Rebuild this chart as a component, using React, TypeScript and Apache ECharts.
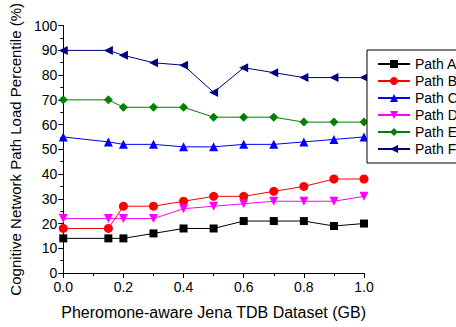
import React, { useEffect, useRef } from "react";
import * as echarts from "echarts";

const xValues = [0, 0.15, 0.2, 0.3, 0.4, 0.5, 0.6, 0.7, 0.8, 0.9, 1.0];
const seriesNames = ["Path A", "Path B", "Path C", "Path D", "Path E", "Path F"];
const pathA = [14, 14, 14, 16, 18, 18, 21, 21, 21, 19, 20];
const pathB = [18, 18, 27, 27, 29, 31, 31, 33, 35, 38, 38];
const pathC = [55, 53, 52, 52, 51, 51, 52, 52, 53, 54, 55];
const pathD = [22, 22, 22, 22, 26, 27, 28, 29, 29, 29, 31];
const pathE = [70, 70, 67, 67, 67, 63, 63, 63, 61, 61, 61];
const pathF = [90, 90, 88, 85, 84, 73, 83, 81, 79, 79, 79];
const allValues = [pathA, pathB, pathC, pathD, pathE, pathF];
const colors = ["#000000", "#ff0000", "#0000ff", "#ff00ff", "#008000", "#000080"];
const symbols = ["rect", "circle", "triangle", "triangle", "diamond", "triangle"];
const symbolRotates = [0, 0, 0, 180, 0, 90];
const symbolSizes = [8, 9, 9, 9, 9, 9];

const FONT = "Liberation Sans, Arial, sans-serif";

export default function App() {
  const ref = useRef<HTMLDivElement>(null);
  useEffect(() => {
    if (!ref.current) return;
    const chart = echarts.init(ref.current, null, { renderer: "svg" });
    const series = seriesNames.map((name, i) => ({
      name,
      type: "line",
      data: xValues.map((x, j) => [x, allValues[i][j]]),
      symbol: symbols[i],
      symbolSize: symbolSizes[i],
      symbolRotate: symbolRotates[i],
      clip: false,
      lineStyle: { color: colors[i], width: 1 },
      itemStyle: { color: colors[i] },
    }));
    chart.setOption({
      animation: false,
      backgroundColor: "#ffffff",
      textStyle: { fontFamily: FONT, color: "#000" },
      grid: { left: 56, right: 92, top: 25, bottom: 54, containLabel: false },
      legend: {
        orient: "vertical",
        left: 367,
        top: 50,
        padding: [7, 10, 7, 10],
        itemWidth: 32,
        itemHeight: 10,
        itemGap: 3,
        borderColor: "#000",
        borderWidth: 1,
        backgroundColor: "#fff",
        textStyle: { fontFamily: FONT, fontSize: 14, lineHeight: 14, color: "#000" },
        data: seriesNames,
      },
      xAxis: {
        type: "value",
        min: 0,
        max: 1,
        interval: 0.2,
        name: "Pheromone-aware Jena TDB Dataset (GB)",
        nameLocation: "middle",
        nameGap: 31,
        nameTextStyle: { fontFamily: FONT, fontSize: 16, color: "#000" },
        axisLine: { show: true, lineStyle: { color: "#000", width: 1 } },
        axisTick: { show: true, inside: false, length: 5, lineStyle: { color: "#000" } },
        minorTick: { show: true, splitNumber: 2, length: 3, lineStyle: { color: "#000" } },
        splitLine: { show: false },
        axisLabel: {
          fontFamily: FONT,
          fontSize: 14,
          color: "#000",
          margin: 7,
          formatter: (v: number) => v.toFixed(1),
        },
      },
      yAxis: {
        type: "value",
        min: 0,
        max: 100,
        interval: 10,
        name: "Cognitive Network Path Load Percentile (%)",
        nameLocation: "middle",
        nameGap: 31,
        nameTextStyle: { fontFamily: FONT, fontSize: 15, color: "#000" },
        axisLine: { show: true, lineStyle: { color: "#000", width: 1 } },
        axisTick: { show: true, inside: false, length: 5, lineStyle: { color: "#000" } },
        minorTick: { show: true, splitNumber: 2, length: 3, lineStyle: { color: "#000" } },
        splitLine: { show: false },
        axisLabel: { fontFamily: FONT, fontSize: 14, color: "#000", margin: 6 },
      },
      series,
    });
    return () => chart.dispose();
  }, []);
  return (
    <div
      ref={ref}
      style={{ position: "fixed", left: 0, top: 0, width: 456, height: 327 }}
    />
  );
}
